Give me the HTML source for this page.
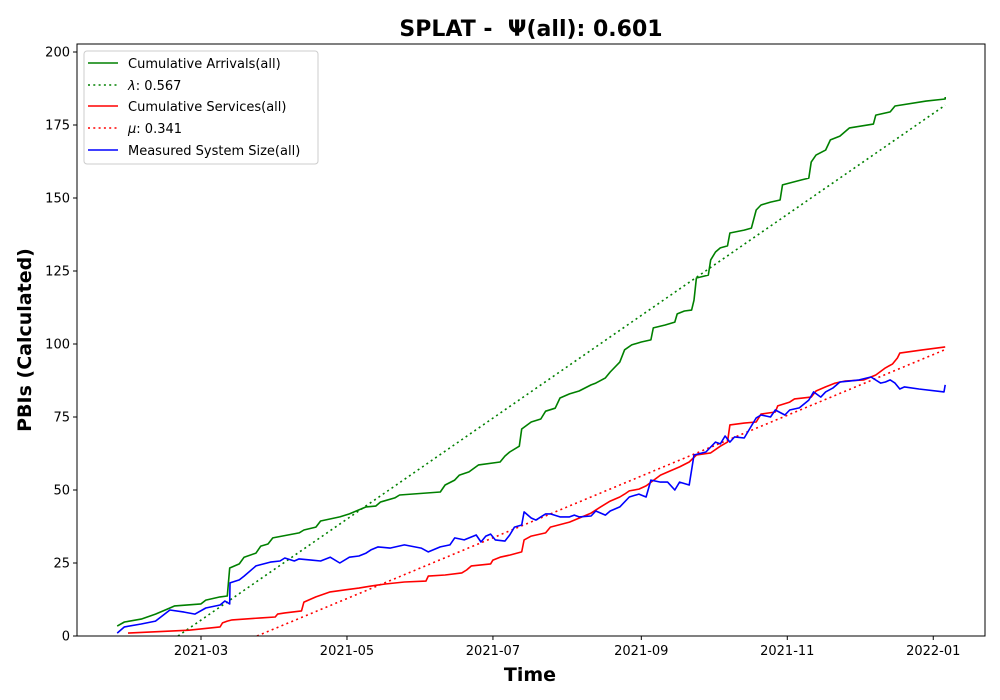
<!DOCTYPE html>
<html><head><meta charset="utf-8"><style>
html,body{margin:0;padding:0;background:#fff;}
svg{display:block;font-family:"DejaVu Sans","Liberation Sans",sans-serif;}
</style></head><body>
<svg id="chart" width="1000" height="700">
<text x="531" y="36" text-anchor="middle" font-size="22" font-weight="bold">SPLAT - &#160;Ψ(all): 0.601</text>
<g id="plot"></g>
<rect x="77" y="44" width="908" height="592" fill="none" stroke="#000" stroke-width="1"/>
<text x="530" y="681" text-anchor="middle" font-size="19" font-weight="bold">Time</text>
<text transform="translate(31,340) rotate(-90)" text-anchor="middle" font-size="19" font-weight="bold">PBIs (Calculated)</text>
<g>
<rect x="84" y="51" width="234" height="113" rx="3" fill="#fff" fill-opacity="0.8" stroke="#ccc"/>
<line x1="88" y1="63" x2="118" y2="63" stroke="green" stroke-width="1.6"/>
<text x="128" y="68" font-size="13">Cumulative Arrivals(all)</text>
<line x1="88" y1="85" x2="118" y2="85" stroke="green" stroke-width="1.6" stroke-dasharray="2,3.3"/>
<text x="128" y="90" font-size="13"><tspan font-style="italic">λ</tspan>: 0.567</text>
<line x1="88" y1="106" x2="118" y2="106" stroke="red" stroke-width="1.6"/>
<text x="128" y="111" font-size="13">Cumulative Services(all)</text>
<line x1="88" y1="128" x2="118" y2="128" stroke="red" stroke-width="1.6" stroke-dasharray="2,3.3"/>
<text x="128" y="133" font-size="13"><tspan font-style="italic">μ</tspan>: 0.341</text>
<line x1="88" y1="150" x2="118" y2="150" stroke="blue" stroke-width="1.6"/>
<text x="128" y="155" font-size="13">Measured System Size(all)</text>
</g>
</svg>
<script>
// day index counted from 2021-01-01
const yTicks=[0,25,50,75,100,125,150,175,200];
const xTickDays=[59,120,181,243,304,365];
const xTickLabels=["2021-03","2021-05","2021-07","2021-09","2021-11","2022-01"];
const lambdaRate=0.567, lambdaStart=49.4;
const muRate=0.341, muStart=82.4;
const endDay=370;
const arrDays=[24,27,34,40,46,48,59,61,67,70,71,75,77,82,84,87,89,100,102,107,109,117,121,125,128,132,134,140,142,159,161,165,167,171,175,184,186,188,192,193,197,201,203,207,209,213,217,222,224,228,230,234,236,239,243,247,248,253,257,258,261,264,265,266,271,272,274,276,279,280,286,289,291,293,297,301,302,310,313,314,316,320,322,326,328,330,340,341,347,349,362,370,370];
const arrVals=[3.4,4.8,5.8,7.5,9.6,10.3,11,12.3,13.4,13.7,23.3,24.7,27,28.4,30.8,31.5,33.6,35.3,36.3,37.3,39.4,40.8,41.8,43.2,44.2,44.5,45.9,47.3,48.3,49.3,51.7,53.4,55.1,56.2,58.6,59.6,61.6,63,65,70.9,73.3,74.3,77,78,81.5,82.9,83.9,86,86.6,88.4,90.4,93.8,98,99.7,100.7,101.4,105.5,106.5,107.5,110.3,111.3,111.6,115,122.6,123.6,128.8,131.5,132.9,133.6,138,139,139.7,145.9,147.6,148.6,149.3,154.5,156.2,156.8,162.3,164.7,166.4,169.9,171.2,172.6,174,175.3,178.4,179.5,181.5,183.2,183.9,184.6];
const svcDays=[28.5,54,67,68,70,72,84,90,91,94,101,102,107,113,119,125,130,136,144,153,154,161,168,170,172,180,181,184,188,193,194,197,203,205,213,222,226,230,234,236,238,242,245,251,255,259,263,266,272,276,279,280,286,291,293,299,300,305,307,314,316,320,324,328,336,341,345,348,350,351,360,370];
const svcVals=[1,2,3.1,4.5,5.1,5.5,6.2,6.5,7.5,7.9,8.6,11.6,13.4,15.1,15.8,16.4,17.1,17.8,18.5,18.8,20.5,20.9,21.6,22.6,24,24.7,26,27,27.7,28.8,32.9,34.2,35.3,37.3,39,42.1,44.2,46.2,47.6,48.6,49.7,50.3,51.4,55.1,56.5,57.9,59.6,62,62.7,65,66.4,72.3,72.9,73.3,76,76.7,78.8,80.1,81.2,81.8,83.9,85.3,86.6,87.3,87.7,89.4,91.8,93.2,95.2,96.9,97.9,99];
const sysDays=[24,27,34,40,46,52,56.5,61,67,69,71,71.1,75,77,82,88,92,94,98,100,105,109,113,117,121,125,128,130,133,138,144,151,154,159,163,165,169,174,176,178,180,182,186,188,190,193,194,197,199,201,203,205,209,213,215,217,222,224,228,230,234,238,242,245,247,251,254,257,259,263,265,270,274,276,278,280,282,286,291,293,297,299,303,305,309,313,315,318,320,323,326,330,334,339,343,345,347,349,351,353,359,369.5,370];
const sysVals=[1,3.1,4.1,5.1,8.9,8.2,7.5,9.6,10.6,12,11,18.2,19.2,20.5,24,25.3,25.7,26.7,25.7,26.4,26,25.7,27,25,27,27.4,28.4,29.5,30.5,30.1,31.2,30.1,28.8,30.5,31.2,33.6,32.9,34.6,32.2,34.2,34.9,32.9,32.5,34.6,37.3,38,42.5,40.4,39.7,40.8,41.8,41.8,40.8,40.8,41.4,40.8,41.1,42.8,41.4,42.8,44.2,47.6,48.6,47.6,53.4,52.7,52.7,50,52.7,51.7,62,63,66.4,65.8,68.5,66.4,68.2,67.8,74.7,75.7,75,77.4,75.7,77.4,78.1,80.8,83.6,81.8,83.6,84.9,87,87.3,87.7,88.7,86.6,87,87.7,86.6,84.6,85.3,84.6,83.6,86];

const X0=77,X1=985,Y0=636,YTOP=44;
function xs(d){return 201+(d-59)*2.393;}
function ys(v){return 636-v*2.92;}
const NS="http://www.w3.org/2000/svg";
const svg=document.getElementById('chart');
const plot=document.getElementById('plot');
function mk(tag,attrs,parent){const e=document.createElementNS(NS,tag);for(const k in attrs)e.setAttribute(k,attrs[k]);(parent||svg).appendChild(e);return e;}
const defs=mk('defs',{});
const cp=mk('clipPath',{id:'clip'},defs);
mk('rect',{x:X0,y:YTOP,width:X1-X0,height:Y0-YTOP},cp);
plot.setAttribute('clip-path','url(#clip)');
yTicks.forEach(v=>{
  const y=ys(v);
  const t=mk('line',{x1:X0-4,x2:X0,y1:y,y2:y,stroke:'#000'});
  
  
  const l=mk('text',{x:X0-7,y:y+4.5,'text-anchor':'end','font-size':'13'});
  
  
  l.textContent=v;
});
xTickDays.forEach((d,i)=>{
  const x=xs(d);
  const t=mk('line',{x1:x,x2:x,y1:Y0,y2:Y0+4,stroke:'#000'});
  
  
  const l=mk('text',{x:x,y:Y0+19,'text-anchor':'middle','font-size':'13'});
  
  
  l.textContent=xTickLabels[i];
});
function series(days,vals,color,name,dash){
  const pts=days.map((d,i)=>xs(d).toFixed(1)+','+ys(vals[i]).toFixed(1)).join(' ');
  const p=mk('polyline',{points:pts,fill:'none',stroke:color,'stroke-width':'1.6','stroke-linejoin':'round'},plot);
  if(dash)p.setAttribute('stroke-dasharray',dash);
  
  
}
series([lambdaStart,endDay],[0,lambdaRate*(endDay-lambdaStart)],'green','lambda-line','2,3.3');
series([muStart,endDay],[0,muRate*(endDay-muStart)],'red','mu-line','2,3.3');
series(arrDays,arrVals,'green','cumulative-arrivals-line');
series(svcDays,svcVals,'red','cumulative-services-line');
series(sysDays,sysVals,'blue','system-size-line');
</script>
</body></html>
